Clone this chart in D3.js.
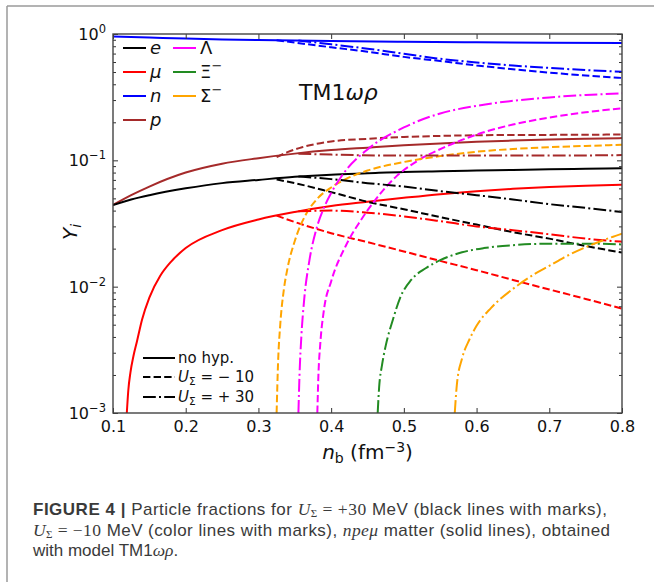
<!DOCTYPE html>
<html><head><meta charset="utf-8">
<script src="https://cdn.jsdelivr.net/npm/d3@7"></script>
<style>body{margin:0;background:#fff} svg{display:block}</style>
</head><body>
<svg id="c" width="654" height="582"></svg>
<script>
// ---------- data ----------
const xTicks = [0.1, 0.2, 0.3, 0.4, 0.5, 0.6, 0.7, 0.8];
const yTicks = [1e-3, 1e-2, 1e-1, 1];
const yTickExp = ["\u22123", "\u22122", "\u22121", "0"];
const species = ["e", "\u03bc", "n", "p", "\u039b", "\u039e", "\u03a3"];
const speciesColors = ["#000000", "#ff0000", "#0000ff", "#a52a2a", "#ff00ff", "#228b22", "#ffa500"];
const styleNames = ["no hyp.", "U=-10", "U=+30"];

// no hyperons (npe mu matter)
const e_noHyp = [[0.1,0.0443],[0.125,0.049],[0.15,0.053],[0.2,0.060],[0.25,0.066],[0.3,0.070],[0.35,0.074],[0.4,0.077],[0.45,0.079],[0.5,0.081],[0.55,0.082],[0.6,0.083],[0.65,0.084],[0.7,0.085],[0.75,0.0857],[0.8,0.0864]];
const mu_noHyp = [[0.119,0.001],[0.121,0.0015],[0.124,0.0021],[0.128,0.0028],[0.133,0.0037],[0.14,0.0055],[0.15,0.0082],[0.165,0.0122],[0.18,0.0158],[0.2,0.0202],[0.25,0.028],[0.3,0.034],[0.35,0.039],[0.4,0.0435],[0.45,0.047],[0.5,0.0505],[0.55,0.054],[0.6,0.057],[0.65,0.0595],[0.7,0.0615],[0.75,0.063],[0.8,0.064]];
const p_noHyp = [[0.1,0.0443],[0.125,0.053],[0.15,0.062],[0.2,0.080],[0.25,0.094],[0.3,0.104],[0.35,0.113],[0.4,0.1205],[0.45,0.126],[0.5,0.1315],[0.55,0.136],[0.6,0.140],[0.65,0.1435],[0.7,0.1465],[0.75,0.1485],[0.8,0.150]];
const n_noHyp = [[0.1,0.956],[0.15,0.938],[0.2,0.920],[0.25,0.906],[0.3,0.896],[0.35,0.887],[0.4,0.879],[0.5,0.868],[0.6,0.860],[0.7,0.853],[0.8,0.850]];

// U_Sigma = -10 MeV (dashed)
const e_m10 = [[0.325,0.0705],[0.35,0.066],[0.4,0.056],[0.45,0.047],[0.5,0.041],[0.55,0.0355],[0.6,0.031],[0.65,0.027],[0.7,0.024],[0.75,0.021],[0.8,0.0186]];
const mu_m10 = [[0.325,0.0365],[0.35,0.0325],[0.4,0.0265],[0.45,0.0225],[0.5,0.019],[0.55,0.016],[0.6,0.0135],[0.65,0.0113],[0.7,0.0095],[0.75,0.008],[0.8,0.0067]];
const p_m10 = [[0.325,0.106],[0.34,0.116],[0.36,0.127],[0.38,0.135],[0.4,0.141],[0.45,0.148],[0.5,0.153],[0.55,0.156],[0.6,0.158],[0.7,0.159],[0.8,0.160]];
const n_m10 = [[0.325,0.894],[0.35,0.855],[0.4,0.785],[0.45,0.724],[0.5,0.659],[0.55,0.611],[0.6,0.564],[0.65,0.526],[0.7,0.495],[0.75,0.469],[0.8,0.449]];
const lam_m10 = [[0.381,0.001],[0.3825,0.002],[0.385,0.0035],[0.39,0.0065],[0.4,0.011],[0.42,0.021],[0.44,0.033],[0.46,0.048],[0.49,0.075],[0.52,0.1],[0.56,0.13],[0.6,0.16],[0.65,0.192],[0.7,0.218],[0.75,0.24],[0.8,0.258]];
const sig_m10 = [[0.325,0.001],[0.327,0.0025],[0.33,0.005],[0.335,0.0095],[0.34,0.014],[0.35,0.023],[0.366,0.038],[0.38,0.049],[0.4,0.061],[0.42,0.071],[0.45,0.083],[0.5,0.097],[0.55,0.108],[0.6,0.117],[0.65,0.123],[0.7,0.127],[0.75,0.130],[0.8,0.133]];

// U_Sigma = +30 MeV (dash-dot)
const e_p30 = [[0.355,0.0745],[0.4,0.071],[0.45,0.066],[0.5,0.062],[0.55,0.057],[0.6,0.053],[0.65,0.049],[0.7,0.045],[0.75,0.042],[0.8,0.039]];
const mu_p30 = [[0.355,0.0395],[0.4,0.040],[0.45,0.0385],[0.5,0.036],[0.55,0.033],[0.6,0.030],[0.65,0.028],[0.7,0.026],[0.75,0.024],[0.8,0.0227]];
const p_p30 = [[0.355,0.113],[0.4,0.111],[0.5,0.109],[0.6,0.109],[0.7,0.109],[0.8,0.110]];
const n_p30 = [[0.355,0.887],[0.4,0.829],[0.45,0.765],[0.5,0.698],[0.55,0.636],[0.6,0.595],[0.65,0.563],[0.7,0.539],[0.75,0.518],[0.8,0.503]];
const lam_p30 = [[0.355,0.001],[0.3565,0.002],[0.359,0.004],[0.363,0.008],[0.37,0.016],[0.38,0.029],[0.39,0.042],[0.4,0.055],[0.42,0.083],[0.45,0.122],[0.5,0.182],[0.55,0.235],[0.6,0.27],[0.65,0.296],[0.7,0.315],[0.75,0.329],[0.8,0.339]];
const xi_p30 = [[0.464,0.001],[0.466,0.0016],[0.47,0.0024],[0.475,0.0034],[0.485,0.0055],[0.495,0.0082],[0.51,0.0113],[0.53,0.014],[0.55,0.0162],[0.58,0.0187],[0.61,0.0202],[0.65,0.0213],[0.7,0.0219],[0.75,0.0219],[0.8,0.0216]];
const sig_p30 = [[0.570,0.001],[0.573,0.0017],[0.58,0.0027],[0.59,0.0038],[0.6,0.0049],[0.62,0.0068],[0.65,0.0096],[0.68,0.0126],[0.7,0.0146],[0.72,0.017],[0.75,0.0205],[0.78,0.024],[0.8,0.0263]];

// ---------- drawing ----------
const dashes = {"no hyp.": null, "U=-10": "7.4,3.2", "U=+30": "12.8,3.2,2,3.2"};
const series = [
  {d: n_noHyp, c: 2, s: "no hyp."}, {d: p_noHyp, c: 3, s: "no hyp."}, {d: e_noHyp, c: 0, s: "no hyp."}, {d: mu_noHyp, c: 1, s: "no hyp."},
  {d: n_m10, c: 2, s: "U=-10"}, {d: p_m10, c: 3, s: "U=-10"}, {d: e_m10, c: 0, s: "U=-10"}, {d: mu_m10, c: 1, s: "U=-10"},
  {d: lam_m10, c: 4, s: "U=-10"}, {d: sig_m10, c: 6, s: "U=-10"},
  {d: n_p30, c: 2, s: "U=+30"}, {d: p_p30, c: 3, s: "U=+30"}, {d: e_p30, c: 0, s: "U=+30"}, {d: mu_p30, c: 1, s: "U=+30"},
  {d: lam_p30, c: 4, s: "U=+30"}, {d: xi_p30, c: 5, s: "U=+30"}, {d: sig_p30, c: 6, s: "U=+30"}
];

const svg = d3.select("#c");
const FONT = "DejaVu Sans";
const L = 113, R = 622, T = 34, B = 413;

// outer figure frame
svg.append("line").attr("x1", 7).attr("y1", 6).attr("x2", 654).attr("y2", 6).attr("stroke", "#9a9a9a").attr("stroke-width", 1.5);
svg.append("line").attr("x1", 7).attr("y1", 6).attr("x2", 7).attr("y2", 582).attr("stroke", "#9a9a9a").attr("stroke-width", 1.5);

const x = d3.scaleLinear().domain([0.1, 0.8]).range([L, R]);
const y = d3.scaleLog().domain([1e-3, 1]).range([B, T]);

svg.append("defs").append("clipPath").attr("id", "clip")
  .append("rect").attr("x", L).attr("y", T).attr("width", R - L).attr("height", B - T);

const line = d3.line().x(d => x(d[0])).y(d => y(d[1])).curve(d3.curveMonotoneX);
const gLines = svg.append("g").attr("clip-path", "url(#clip)");
series.forEach(s => {
  gLines.append("path").attr("d", line(s.d)).attr("fill", "none")
    .attr("stroke", speciesColors[s.c]).attr("stroke-width", 2)
    .attr("stroke-dasharray", dashes[s.s]);
});

// axes
const minor = [];
[1e-3, 1e-2, 1e-1].forEach(d => { for (let k = 2; k <= 9; k++) minor.push(d * k); });

function styleAxis(g) {
  g.select(".domain").remove();
  g.selectAll(".tick line").attr("stroke", "#333").attr("stroke-width", 1);
}
svg.append("g").attr("transform", `translate(0,${B})`)
  .call(d3.axisBottom(x).tickValues(xTicks).tickFormat(d3.format(".1f")).tickSize(-5).tickPadding(8))
  .call(styleAxis)
  .selectAll("text").attr("font-family", FONT).attr("font-size", 16).attr("fill", "#111");
svg.append("g").attr("transform", `translate(0,${T})`)
  .call(d3.axisTop(x).tickValues(xTicks).tickFormat("").tickSize(-5)).call(styleAxis);

svg.append("g").attr("transform", `translate(${L},0)`)
  .call(d3.axisLeft(y).tickValues(yTicks).tickFormat("").tickSize(-5)).call(styleAxis);
svg.append("g").attr("transform", `translate(${L},0)`)
  .call(d3.axisLeft(y).tickValues(minor).tickFormat("").tickSize(-3)).call(styleAxis);
svg.append("g").attr("transform", `translate(${R},0)`)
  .call(d3.axisRight(y).tickValues(yTicks).tickFormat("").tickSize(-5)).call(styleAxis);
svg.append("g").attr("transform", `translate(${R},0)`)
  .call(d3.axisRight(y).tickValues(minor).tickFormat("").tickSize(-3)).call(styleAxis);

yTicks.forEach((v, i) => {
  const t = svg.append("text").attr("x", L - 7).attr("y", y(v) + 6)
    .attr("text-anchor", "end").attr("font-family", FONT).attr("font-size", 16).attr("fill", "#111");
  t.append("tspan").text("10");
  t.append("tspan").attr("dy", -7).attr("font-size", 11.5).text(yTickExp[i]);
});

// spines
svg.append("rect").attr("x", L).attr("y", T).attr("width", R - L).attr("height", B - T)
  .attr("fill", "none").attr("stroke", "#444").attr("stroke-width", 1.4);

// axis labels
const xl = svg.append("text").attr("x", (L + R) / 2).attr("y", 459).attr("text-anchor", "middle")
  .attr("font-family", FONT).attr("font-size", 20).attr("fill", "#111");
xl.append("tspan").attr("font-style", "italic").text("n");
xl.append("tspan").attr("dy", 4).attr("font-size", 14).text("b");
xl.append("tspan").attr("dy", -4).text(" (fm");
xl.append("tspan").attr("dy", -7).attr("font-size", 14).text("\u22123");
xl.append("tspan").attr("dy", 7).text(")");

const yl = svg.append("text").attr("transform", `translate(77,232) rotate(-90)`)
  .attr("text-anchor", "middle").attr("font-family", FONT).attr("font-size", 20).attr("fill", "#111");
yl.append("tspan").attr("font-style", "italic").text("Y");
yl.append("tspan").attr("dy", 4).attr("font-size", 14).attr("font-style", "italic").text("i");

// model label
const ml = svg.append("text").attr("x", 299).attr("y", 100).attr("font-family", FONT).attr("font-size", 22).attr("fill", "#111");
ml.append("tspan").text("TM1");
ml.append("tspan").attr("font-style", "italic").text("\u03c9\u03c1");

// species legend
const legPos = [[123, 48], [123, 72], [123, 96], [123, 120], [173, 48], [173, 72], [173, 96]];
species.forEach((sp, i) => {
  const [lx, ly] = legPos[i];
  svg.append("line").attr("x1", lx).attr("x2", lx + 23).attr("y1", ly).attr("y2", ly)
    .attr("stroke", speciesColors[i]).attr("stroke-width", 2);
  const t = svg.append("text").attr("x", lx + 27).attr("y", ly + 6).attr("font-family", FONT)
    .attr("font-size", 18).attr("fill", "#111");
  if (i < 4) t.append("tspan").attr("font-style", "italic").text(sp);
  else {
    t.append("tspan").text(sp);
    if (i > 4) t.append("tspan").attr("dy", -8).attr("font-size", 13).text("\u2212");
  }
});

// line-style legend
const styleY = [358, 377, 397];
styleNames.forEach((s, i) => {
  svg.append("line").attr("x1", 143).attr("x2", 175).attr("y1", styleY[i]).attr("y2", styleY[i])
    .attr("stroke", "#000").attr("stroke-width", 2).attr("stroke-dasharray", dashes[s]);
  const t = svg.append("text").attr("x", 178).attr("y", styleY[i] + 5).attr("font-family", FONT)
    .attr("font-size", 15).attr("fill", "#111");
  if (i === 0) t.text("no hyp.");
  else {
    t.append("tspan").attr("font-style", "italic").text("U");
    t.append("tspan").attr("dy", 3).attr("font-size", 10.5).text("\u03a3");
    t.append("tspan").attr("dy", -3).text(i === 1 ? " = \u2212 10" : " = + 30");
  }
});

// caption
const CAP = "Liberation Sans", SER = "Liberation Serif";
const capColor = "#3a3a3a";
function capLine(yy, len) {
  const t = svg.append("text").attr("x", 33).attr("y", yy).attr("font-family", CAP).attr("font-size", 17).attr("fill", capColor);
  if (len) t.attr("textLength", len).attr("lengthAdjust", "spacing");
  return t;
}
function uSigma(t, rest) {
  t.append("tspan").attr("font-family", SER).attr("font-style", "italic").attr("font-size", 17.5).text("U");
  t.append("tspan").attr("font-family", SER).attr("font-size", 11).attr("dy", 2).text("\u03a3");
  t.append("tspan").attr("font-family", SER).attr("font-size", 17.5).attr("dy", -2).text(rest);
}
const c1 = capLine(515, 574);
c1.append("tspan").attr("font-weight", "bold").text("FIGURE 4");
c1.append("tspan").attr("font-weight", "bold").text(" | ");
c1.append("tspan").text("Particle fractions for ");
uSigma(c1, " = +30");
c1.append("tspan").text(" MeV (black lines with marks),");

const c2 = capLine(536, 577);
uSigma(c2, " = \u221210");
c2.append("tspan").text(" MeV (color lines with marks), ");
c2.append("tspan").attr("font-family", SER).attr("font-style", "italic").attr("font-size", 17.5).text("npe\u03bc");
c2.append("tspan").text(" matter (solid lines), obtained");

const c3 = capLine(556, null);
c3.append("tspan").text("with model TM1");
c3.append("tspan").attr("font-family", SER).attr("font-style", "italic").attr("font-size", 17.5).text("\u03c9\u03c1");
c3.append("tspan").text(".");
</script>
</body></html>
